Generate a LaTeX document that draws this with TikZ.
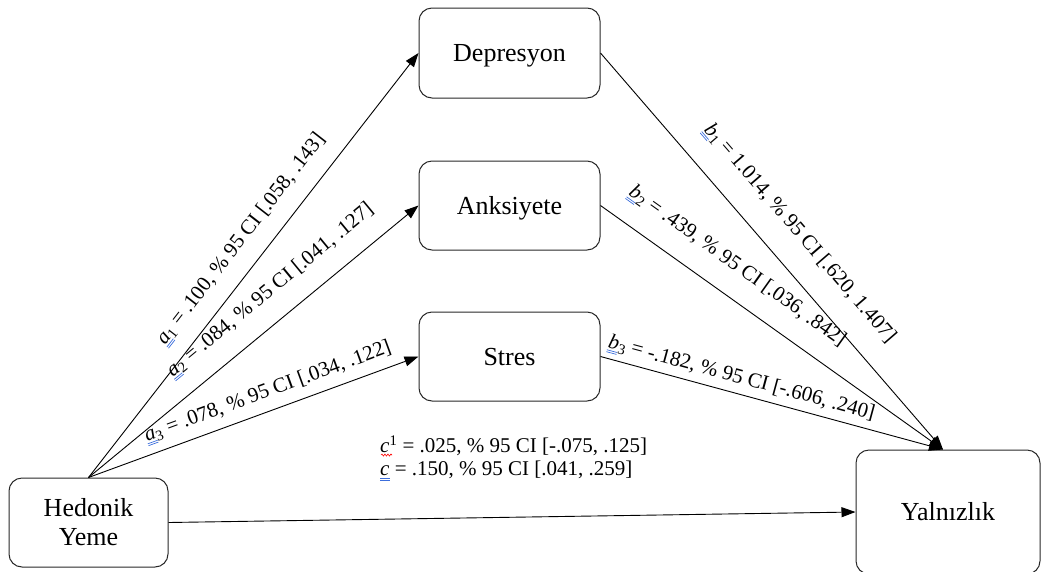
\documentclass[tikz,border=0pt]{standalone}
\usepackage{fontspec}
\setmainfont{Liberation Serif}
\usetikzlibrary{arrows.meta,decorations.pathmorphing}
\definecolor{ulblue}{RGB}{60,110,220}
\definecolor{boxline}{RGB}{40,40,40}
\newcommand\dul[1]{\setbox0\hbox{#1}\rlap{\color{ulblue}\rule[-2.6pt]{\wd0}{0.7pt}}\rlap{\color{ulblue}\rule[-4.6pt]{\wd0}{0.7pt}}\box0\relax}
\begin{document}
\begin{tikzpicture}[x=1pt,y=-1pt,
  box/.style={draw=boxline, line width=1pt, rounded corners=13pt, align=center,
    font=\fontsize{26}{29}\selectfont, inner sep=0pt},
  onebox/.style={box, text height=18pt, text depth=1pt},
  arr/.style={-{Triangle[length=14pt,width=10pt]}, line width=0.9pt},
  lab/.style={sloped, font=\fontsize{21}{24}\selectfont, text height=15pt, text depth=5pt,
    inner xsep=0pt, anchor=south}]
\useasboundingbox (0,0) rectangle (1042,571);
\node[onebox, minimum width=181pt, minimum height=90pt] (dep) at (509.5,53) {Depresyon};
\node[onebox, minimum width=181pt, minimum height=89pt] (ank) at (509.5,205.5) {Anksiyete};
\node[onebox, minimum width=181pt, minimum height=89pt] (str) at (509.5,356.5) {Stres};
\node[box, minimum width=159pt, minimum height=89pt] (hed) at (88.5,522.5) {Hedonik\\Yeme};
\node[onebox, minimum width=184pt, minimum height=124pt] (yal) at (948,512) {Yalnızlık};

\draw[arr] (hed.north) -- (dep.west)
  node[lab, pos=.524, inner ysep=15pt] {\dul{\textit{a}}\textsubscript{1} = .100, \% 95 CI [.058, .143]};
\draw[arr] (hed.north) -- (ank.west)
  node[lab, pos=.606, inner ysep=18pt] {\dul{\textit{a}}\textsubscript{2} = .084, \% 95 CI [.041, .127]};
\draw[arr] (hed.north) -- (str.west)
  node[lab, pos=.563, inner ysep=8pt] {\dul{\textit{a}}\textsubscript{3} = .078, \% 95 CI [.034, .122]};
\draw[arr] (dep.east) -- ([xshift=-5pt]yal.north)
  node[lab, pos=.509, inner ysep=22pt] {\dul{\textit{b}}\textsubscript{1} = 1.014, \% 95 CI [.620, 1.407]};
\draw[arr] (ank.east) -- ([xshift=-5pt]yal.north)
  node[lab, pos=.349, inner ysep=19pt] {\dul{\textit{b}}\textsubscript{2} = .439, \% 95 CI [.036, .842]};
\draw[arr] (str.east) -- ([xshift=-5pt]yal.north)
  node[lab, pos=.40, inner ysep=5pt] {\dul{\textit{b}}\textsubscript{3} = -.182, \% 95 CI [-.606, .240]};
\draw[arr] (hed.east) -- (yal.west);

\node[anchor=west, align=left, inner sep=0pt, font=\fontsize{21}{23}\selectfont] (cl) at (380,458)
  {\textit{c}\textsuperscript{1} = .025, \% 95 CI [-.075, .125]\\\dul{\textit{c}} = .150, \% 95 CI [.041, .259]};
\draw[red, line width=0.6pt, decorate, decoration={snake, amplitude=1pt, segment length=3pt}]
  (381,455) -- (392,455);
\end{tikzpicture}
\end{document}
